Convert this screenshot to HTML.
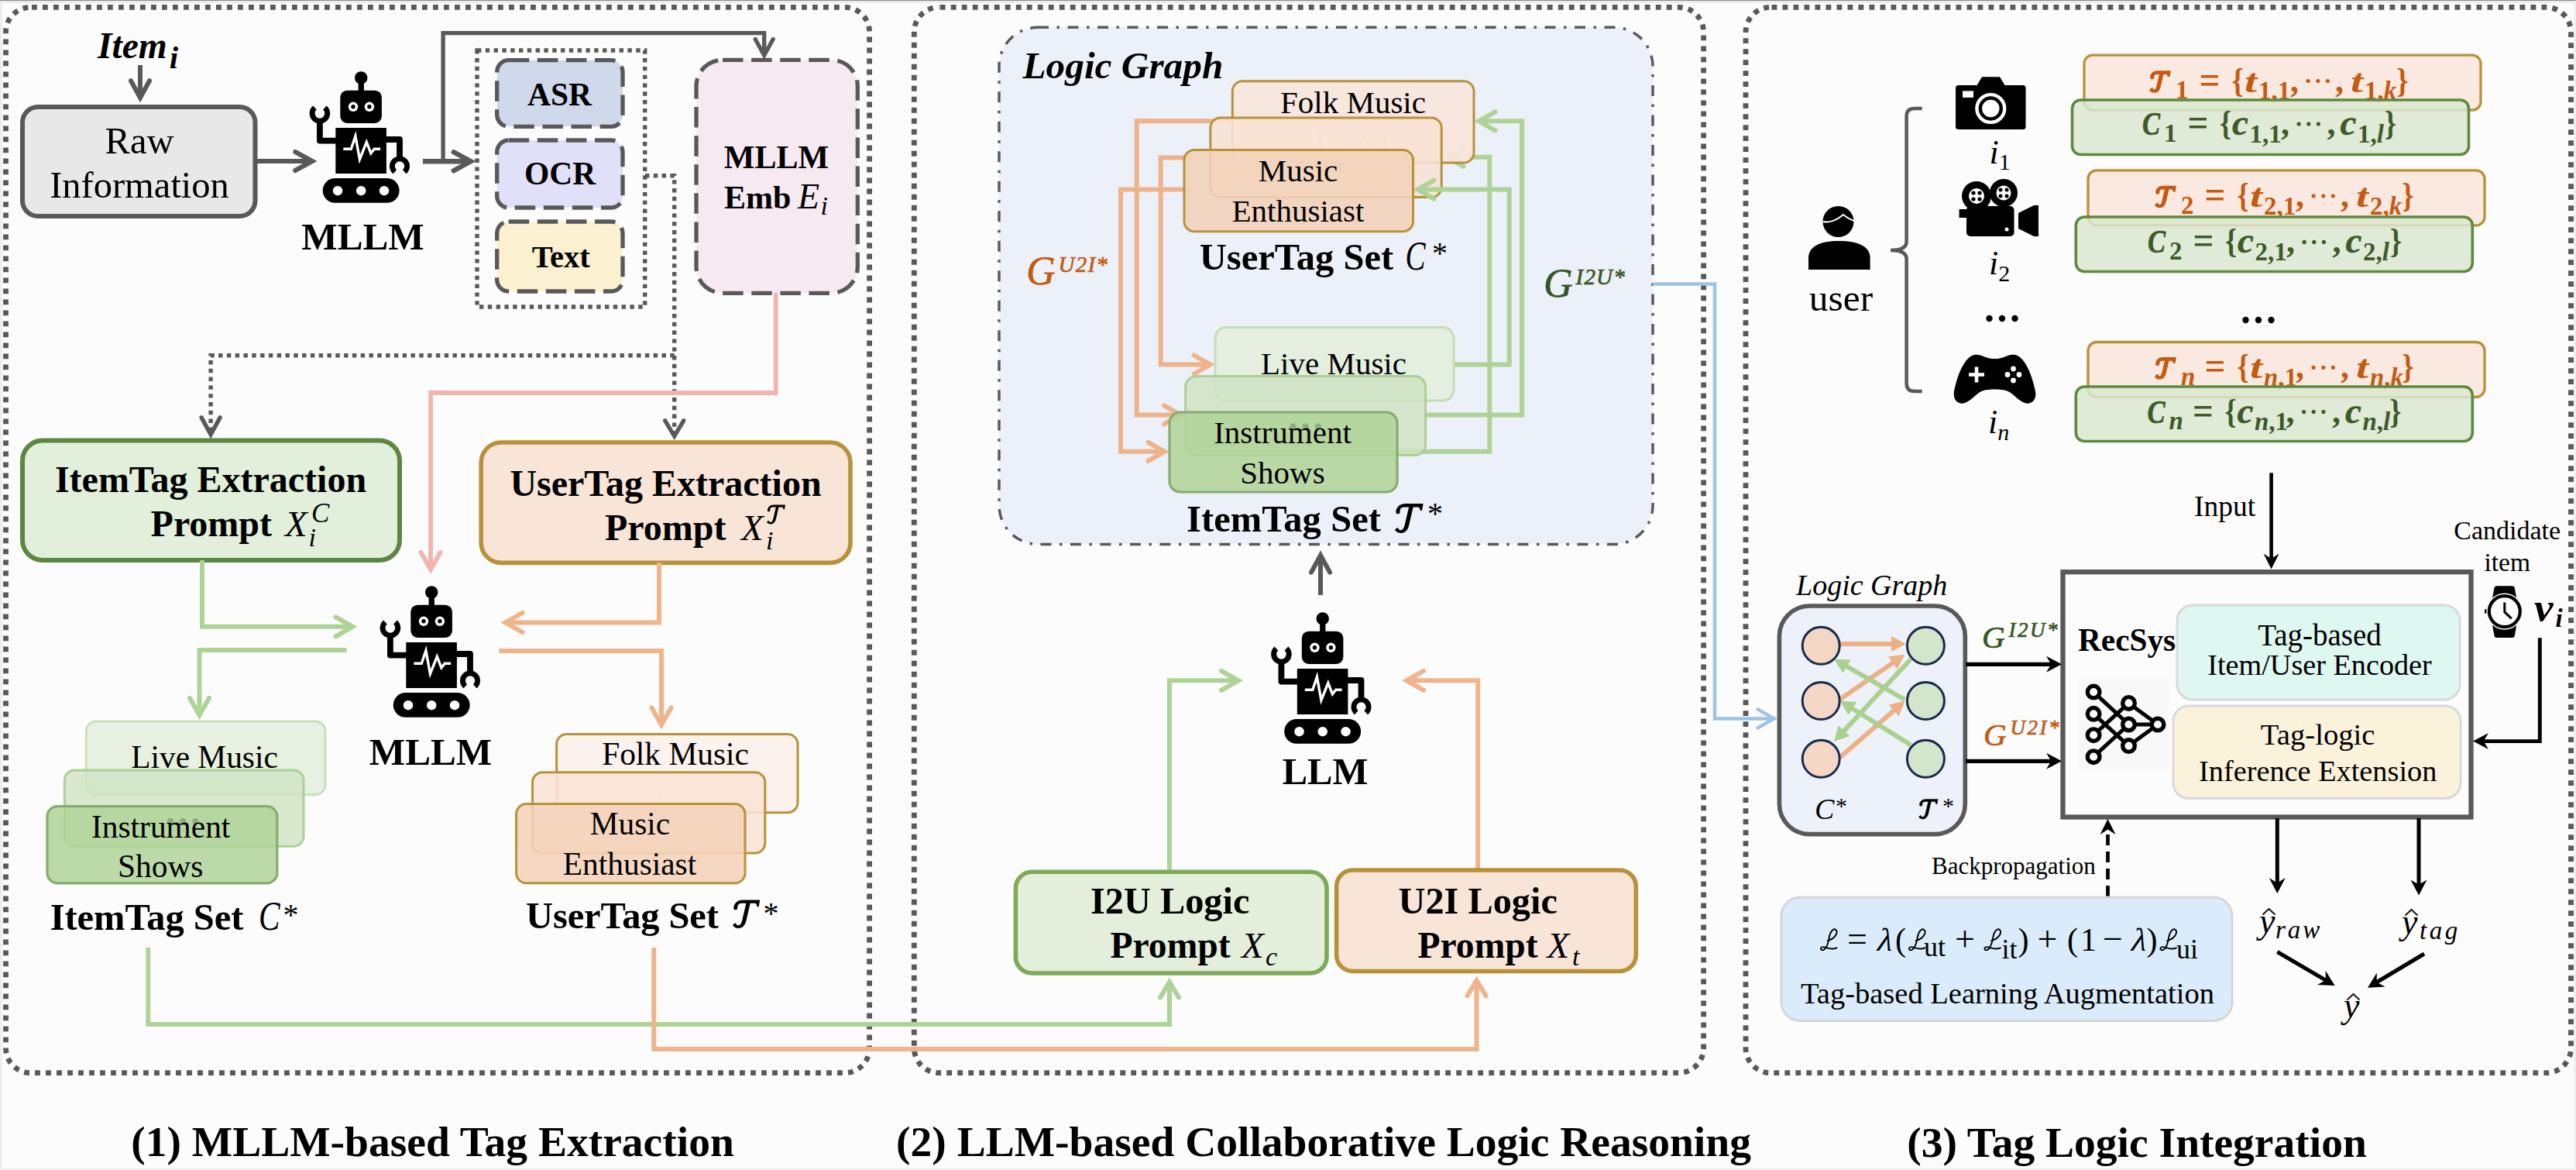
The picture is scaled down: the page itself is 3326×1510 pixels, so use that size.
<!DOCTYPE html>
<html><head><meta charset="utf-8"><title>figure</title>
<style>
html,body{margin:0;padding:0;background:#fcfcfc;}
svg{display:block}
text{font-family:"Liberation Serif",serif;white-space:pre}
.b{font-weight:bold}
.i{font-style:italic}
.bi{font-weight:bold;font-style:italic}
.sans{font-family:"Liberation Sans",sans-serif}
</style></head>
<body>
<svg width="3326" height="1510" viewBox="0 0 3326 1510">
<defs>
<g id="robot">
 <circle cx="86.2" cy="20.4" r="8.2"/>
 <rect x="82.6" y="20" width="7.3" height="20"/>
 <rect x="59.3" y="36.7" width="53.6" height="42.2" rx="9"/>
 <circle cx="76" cy="57.8" r="6.2" fill="#fff"/><circle cx="76" cy="57.8" r="2.7"/>
 <circle cx="96.9" cy="57.8" r="6.2" fill="#fff"/><circle cx="96.9" cy="57.8" r="2.7"/>
 <rect x="53.3" y="85" width="65.6" height="59"/>
 <polyline points="63.3,112.2 73.3,112.2 78.9,95.6 84.4,125.6 93.3,103.3 98.9,117.8 103.3,112.2 111.1,112.2" stroke="#fff" stroke-width="3.4" fill="none"/>
 <path d="M54,101.6 H32.9 V74" fill="none" stroke="#000" stroke-width="7.8" stroke-linejoin="round"/>
 <path d="M39.4,59.0 A9.8,9.8 0 1 1 26.4,59.0" fill="none" stroke="#000" stroke-width="7"/>
 <path d="M118,100 H136 V123" fill="none" stroke="#000" stroke-width="7.8" stroke-linejoin="round"/>
 <path d="M129.83,141.75 A9.6,9.6 0 1 1 142.17,141.75" fill="none" stroke="#000" stroke-width="6.8"/>
 <rect x="36.7" y="150" width="98.9" height="31.8" rx="15.9"/>
 <circle cx="56" cy="166.2" r="6.2" fill="#fff"/><circle cx="86.2" cy="166.2" r="6.2" fill="#fff"/><circle cx="116" cy="166.2" r="6.2" fill="#fff"/>
</g>
</defs>
<rect x="0" y="0" width="3326" height="1510" fill="#fcfcfc"/>
<rect x="0" y="0" width="3" height="1510" fill="#eeeeee"/>
<rect x="0" y="1508" width="3326" height="2" fill="#eeeeee"/>
<rect x="0" y="0" width="3326" height="4" fill="#ececec"/>
<rect x="0" y="0" width="3326" height="1" fill="#8c8c8c"/>
<rect x="7.5" y="9.4" width="1115.1" height="1375.3" rx="32" ry="32" fill="none" stroke="#595959" stroke-width="6.8" stroke-dasharray="6.8 7.2" stroke-dashoffset="-1.5"/>
<rect x="1180.3" y="9.4" width="1019.3" height="1375.3" rx="32" ry="32" fill="none" stroke="#595959" stroke-width="6.8" stroke-dasharray="6.8 7.2" stroke-dashoffset="-1.5"/>
<rect x="2254.0" y="9.4" width="1065.5" height="1375.3" rx="32" ry="32" fill="none" stroke="#595959" stroke-width="6.8" stroke-dasharray="6.8 7.2" stroke-dashoffset="-1.5"/>
<text x="126.0" y="74.5" font-size="47.5" class="bi" text-anchor="start" fill="#000" >Item<tspan dy="13" dx="3" font-size="41">i</tspan></text>
<polyline points="181.0,84.0 181.0,126.2" fill="none" stroke="#595959" stroke-width="6" stroke-linejoin="miter" />
<polyline points="169.0,104.2 181.0,126.2 193.0,104.2" fill="none" stroke="#595959" stroke-width="6" stroke-linecap="round" stroke-linejoin="miter" />
<rect x="29.0" y="138.0" width="300.5" height="141.0" rx="20" ry="20" fill="#e8e8e8" stroke="#595959" stroke-width="6" />
<text x="180.0" y="197.7" font-size="48.5" class="" text-anchor="middle" fill="#000" >Raw</text>
<text x="180.0" y="255.0" font-size="48.5" class="" text-anchor="middle" fill="#000" >Information</text>
<polyline points="331.0,208.0 403.2,208.0" fill="none" stroke="#595959" stroke-width="6" stroke-linejoin="miter" />
<polyline points="381.2,220.0 403.2,208.0 381.2,196.0" fill="none" stroke="#595959" stroke-width="6" stroke-linecap="round" stroke-linejoin="miter" />
<use href="#robot" x="380" y="80"/>
<text x="468.5" y="322.0" font-size="49.2" class="b" text-anchor="middle" fill="#000" >MLLM</text>
<polyline points="546.0,208.3 607.8,208.3" fill="none" stroke="#595959" stroke-width="6.4" stroke-linejoin="miter" />
<polyline points="585.8,220.3 607.8,208.3 585.8,196.3" fill="none" stroke="#595959" stroke-width="6.4" stroke-linecap="round" stroke-linejoin="miter" />
<polyline points="572.1,208.0 572.1,42.7 986.7,42.7 986.7,71.5" fill="none" stroke="#595959" stroke-width="5.3" stroke-linejoin="miter" />
<polyline points="975.2,50.5 986.7,71.5 998.2,50.5" fill="none" stroke="#595959" stroke-width="5.3" stroke-linecap="round" stroke-linejoin="miter" />
<rect x="616.0" y="65.0" width="216.7" height="331.0" rx="0" ry="0" fill="none" stroke="#595959" stroke-width="5.4" stroke-dasharray="5.4 5.4" />
<rect x="641.7" y="77.7" width="162.3" height="85.6" rx="15" ry="15" fill="#cfd9eb" stroke="#595959" stroke-width="5.3" stroke-dasharray="26.5 10.6" />
<rect x="641.7" y="181.0" width="162.3" height="87.0" rx="15" ry="15" fill="#e0e0f8" stroke="#595959" stroke-width="5.3" stroke-dasharray="26.5 10.6" />
<rect x="641.7" y="286.0" width="162.3" height="90.0" rx="15" ry="15" fill="#fbf0d0" stroke="#595959" stroke-width="5.3" stroke-dasharray="26.5 10.6" />
<text x="722.5" y="136.0" font-size="41.5" class="b" text-anchor="middle" fill="#000" >ASR</text>
<text x="723.0" y="238.3" font-size="41.5" class="b" text-anchor="middle" fill="#000" >OCR</text>
<text x="724.3" y="345.0" font-size="40.5" class="b" text-anchor="middle" fill="#000" >Text</text>
<rect x="899.0" y="77.3" width="208.3" height="301.0" rx="34" ry="34" fill="#f7e9f2" stroke="#595959" stroke-width="5.3" stroke-dasharray="26.5 10.6" />
<text x="1002.5" y="217.3" font-size="42" class="b" text-anchor="middle" fill="#000" >MLLM</text>
<text x="935.0" y="269.3" font-size="42" class="b" text-anchor="start" fill="#000" >Emb</text>
<text x="1030.0" y="269.3" font-size="46" class="i" text-anchor="start" fill="#000" >E</text>
<text x="1059.5" y="276.7" font-size="34" class="i" text-anchor="start" fill="#000" >i</text>
<polyline points="833.0,226.7 870.7,226.7 870.7,562.8" fill="none" stroke="#595959" stroke-width="5.4" stroke-linejoin="miter" stroke-dasharray="5.4 5.4" />
<polyline points="858.7,542.8 870.7,562.8 882.7,542.8" fill="none" stroke="#595959" stroke-width="5.4" stroke-linecap="round" stroke-linejoin="miter" />
<polyline points="870.7,458.8 272.1,458.8 272.1,560.9" fill="none" stroke="#595959" stroke-width="5.4" stroke-linejoin="miter" stroke-dasharray="5.4 5.4" />
<polyline points="260.1,538.9 272.1,560.9 284.1,538.9" fill="none" stroke="#595959" stroke-width="5.4" stroke-linecap="round" stroke-linejoin="miter" />
<polyline points="1001.7,378.0 1001.7,507.0 556.0,507.0 556.0,735.1" fill="none" stroke="#f4b4ae" stroke-width="5.8" stroke-linejoin="miter" />
<polyline points="543.5,713.1 556.0,735.1 568.5,713.1" fill="none" stroke="#f4b4ae" stroke-width="5.8" stroke-linecap="round" stroke-linejoin="miter" />
<rect x="29.0" y="568.6" width="487.0" height="154.4" rx="26" ry="26" fill="#e2efda" stroke="#5d8740" stroke-width="6" />
<text x="272.0" y="635.3" font-size="48" class="b" text-anchor="middle" fill="#000" >ItemTag Extraction</text>
<text x="194.6" y="692.2" font-size="48" class="b" text-anchor="start" fill="#000" >Prompt</text>
<text x="368.0" y="692.2" font-size="47" class="i" text-anchor="start" fill="#000" >X</text>
<text x="398.5" y="704.5" font-size="34" class="i" text-anchor="start" fill="#000" >i</text>
<text x="402.0" y="673.8" font-size="35" class="i" text-anchor="start" fill="#000" >C</text>
<rect x="621.2" y="571.0" width="476.8" height="155.4" rx="26" ry="26" fill="#f8e5d8" stroke="#b8923a" stroke-width="5.6" />
<text x="859.5" y="639.8" font-size="48" class="b" text-anchor="middle" fill="#000" >UserTag Extraction</text>
<text x="781.0" y="697.0" font-size="48" class="b" text-anchor="start" fill="#000" >Prompt</text>
<text x="957.0" y="697.0" font-size="47" class="i" text-anchor="start" fill="#000" >X</text>
<text x="989.0" y="708.6" font-size="34" class="i" text-anchor="start" fill="#000" >i</text>
<path transform="translate(990.0,676.4) scale(0.6538)" fill="#000" d="M6.2,-25.6 C4.5,-24.5 2.5,-24.5 1.7,-25.5 C0.8,-28 1.5,-31 4,-34 C6.5,-37 10,-38 14,-38 L36.6,-38 L34.9,-28.7 L32.5,-29.5 C32.5,-31.5 32,-33 30,-33.5 L23.6,-33.5 L18.3,-10.6 C17,-5 14,-0.5 8.5,0 C4.5,0.3 1,-1.5 0,-4.4 L3.8,-7.2 C4.5,-5 6,-3.6 8,-3.8 C10.5,-4.2 12,-7.5 12.8,-11 L18.1,-33.5 L12,-33.5 C9,-33.5 7,-32 6.6,-29.5 Z"/>
<polyline points="261.0,723.0 261.0,808.8 455.4,808.8" fill="none" stroke="#aed396" stroke-width="6" stroke-linejoin="miter" />
<polyline points="433.4,821.3 455.4,808.8 433.4,796.3" fill="none" stroke="#aed396" stroke-width="6" stroke-linecap="round" stroke-linejoin="miter" />
<polyline points="851.0,726.0 851.0,803.5 652.6,803.5" fill="none" stroke="#f0b48a" stroke-width="6" stroke-linejoin="miter" />
<polyline points="674.6,791.0 652.6,803.5 674.6,816.0" fill="none" stroke="#f0b48a" stroke-width="6" stroke-linecap="round" stroke-linejoin="miter" />
<polyline points="447.6,839.0 257.5,839.0 257.5,922.9" fill="none" stroke="#aed396" stroke-width="6" stroke-linejoin="miter" />
<polyline points="245.0,900.9 257.5,922.9 270.0,900.9" fill="none" stroke="#aed396" stroke-width="6" stroke-linecap="round" stroke-linejoin="miter" />
<polyline points="644.4,840.0 854.0,840.0 854.0,935.4" fill="none" stroke="#f0b48a" stroke-width="6" stroke-linejoin="miter" />
<polyline points="841.5,913.4 854.0,935.4 866.5,913.4" fill="none" stroke="#f0b48a" stroke-width="6" stroke-linecap="round" stroke-linejoin="miter" />
<use href="#robot" x="471" y="744"/>
<text x="556.0" y="986.8" font-size="49.2" class="b" text-anchor="middle" fill="#000" >MLLM</text>
<polyline points="191.3,1223.0 191.3,1322.0 1510.0,1322.0 1510.0,1267.4" fill="none" stroke="#aed396" stroke-width="6" stroke-linejoin="miter" />
<polyline points="1522.0,1287.4 1510.0,1267.4 1498.0,1287.4" fill="none" stroke="#aed396" stroke-width="6" stroke-linecap="round" stroke-linejoin="miter" />
<polyline points="844.3,1223.0 844.3,1354.0 1906.5,1354.0 1906.5,1265.3" fill="none" stroke="#f0b48a" stroke-width="6" stroke-linejoin="miter" />
<polyline points="1918.5,1285.3 1906.5,1265.3 1894.5,1285.3" fill="none" stroke="#f0b48a" stroke-width="6" stroke-linecap="round" stroke-linejoin="miter" />
<rect x="111.3" y="931.0" width="308.7" height="94.6" rx="13" ry="13" fill="#e6f0de" stroke="#c8e0b9" stroke-width="3" fill-opacity="0.9"/>
<text x="264.0" y="991.0" font-size="41.4" class="" text-anchor="middle" fill="#000" >Live Music</text>
<rect x="83.3" y="994.0" width="308.7" height="98.3" rx="13" ry="13" fill="#d0e4c3" stroke="#abd094" stroke-width="3" fill-opacity="0.85"/>
<rect x="61.0" y="1040.7" width="296.8" height="99.1" rx="13" ry="13" fill="#b0d398" stroke="#86ac70" stroke-width="3.2" fill-opacity="0.85"/>
<g fill="#8fae7c"><circle cx="220" cy="1060" r="4.2"/><circle cx="236.2" cy="1060" r="4.2"/><circle cx="252.4" cy="1060" r="4.2"/></g>
<text x="207.7" y="1080.7" font-size="41.4" class="" text-anchor="middle" fill="#000" >Instrument</text>
<text x="207.2" y="1132.3" font-size="41.4" class="" text-anchor="middle" fill="#000" >Shows</text>
<text x="64.7" y="1199.8" font-size="48.5" class="b" text-anchor="start" fill="#000" textLength="249.6">ItemTag Set</text>
<text x="334.0" y="1199.8" font-size="52" class="i" text-anchor="start" fill="#000" textLength="27.5" lengthAdjust="spacingAndGlyphs">C</text>
<text x="365.5" y="1194.0" font-size="40" class="" text-anchor="start" fill="#000" >*</text>
<rect x="718.6" y="947.5" width="311.4" height="101.2" rx="13" ry="13" fill="#fcf1eb" stroke="#b8923a" stroke-width="3" fill-opacity="0.9"/>
<text x="872.0" y="986.5" font-size="41.4" class="" text-anchor="middle" fill="#000" >Folk Music</text>
<text x="872.0" y="1040.0" font-size="41.4" class="" text-anchor="middle" fill="#f5e6dd" >Lover</text>
<rect x="687.5" y="996.8" width="300.3" height="104.2" rx="13" ry="13" fill="#f9e4d6" stroke="#b8923a" stroke-width="3" fill-opacity="0.88"/>
<g fill="#eebb9a"><circle cx="822" cy="1065.5" r="4"/><circle cx="838" cy="1065.5" r="4"/><circle cx="854" cy="1065.5" r="4"/></g>
<rect x="666.6" y="1037.6" width="295.4" height="102.2" rx="13" ry="13" fill="#f5d3ba" stroke="#b8923a" stroke-width="3" fill-opacity="0.88"/>
<text x="813.5" y="1076.7" font-size="41.4" class="" text-anchor="middle" fill="#000" >Music</text>
<text x="813.0" y="1128.7" font-size="41.4" class="" text-anchor="middle" fill="#000" >Enthusiast</text>
<text x="679.0" y="1198.0" font-size="48.5" class="b" text-anchor="start" fill="#000" textLength="248.8">UserTag Set</text>
<path transform="translate(946.0,1198.0) scale(0.9615)" fill="#000" d="M6.2,-25.6 C4.5,-24.5 2.5,-24.5 1.7,-25.5 C0.8,-28 1.5,-31 4,-34 C6.5,-37 10,-38 14,-38 L36.6,-38 L34.9,-28.7 L32.5,-29.5 C32.5,-31.5 32,-33 30,-33.5 L23.6,-33.5 L18.3,-10.6 C17,-5 14,-0.5 8.5,0 C4.5,0.3 1,-1.5 0,-4.4 L3.8,-7.2 C4.5,-5 6,-3.6 8,-3.8 C10.5,-4.2 12,-7.5 12.8,-11 L18.1,-33.5 L12,-33.5 C9,-33.5 7,-32 6.6,-29.5 Z"/>
<text x="985.5" y="1192.0" font-size="40" class="" text-anchor="start" fill="#000" >*</text>
<text x="558.5" y="1491.6" font-size="55.5" class="b" text-anchor="middle" fill="#000" >(1) MLLM-based Tag Extraction</text>
<rect x="1290.0" y="35.3" width="844.0" height="667.1" rx="50" ry="50" fill="#ecf0f9" stroke="#595959" stroke-width="3.5" stroke-dasharray="14 10.5 3.5 10.5" />
<text x="1320.5" y="100.6" font-size="49.3" class="bi" text-anchor="start" fill="#000" >Logic Graph</text>
<polyline points="1600.0,156.3 1467.7,156.3 1467.7,535.4 1524.0,535.4" fill="none" stroke="#efb38b" stroke-width="6" stroke-linejoin="miter" />
<polyline points="1503.0,547.4 1524.0,535.4 1503.0,523.4" fill="none" stroke="#efb38b" stroke-width="6" stroke-linecap="round" stroke-linejoin="miter" />
<polyline points="1540.0,203.4 1498.7,203.4 1498.7,470.5 1562.7,470.5" fill="none" stroke="#efb38b" stroke-width="6" stroke-linejoin="miter" />
<polyline points="1541.7,482.5 1562.7,470.5 1541.7,458.5" fill="none" stroke="#efb38b" stroke-width="6" stroke-linecap="round" stroke-linejoin="miter" />
<polyline points="1540.0,244.6 1447.0,244.6 1447.0,582.8 1503.5,582.8" fill="none" stroke="#efb38b" stroke-width="6" stroke-linejoin="miter" />
<polyline points="1482.5,594.8 1503.5,582.8 1482.5,570.8" fill="none" stroke="#efb38b" stroke-width="6" stroke-linecap="round" stroke-linejoin="miter" />
<polyline points="1804.0,582.8 1923.3,582.8 1923.3,202.8 1868.6,202.8" fill="none" stroke="#aed396" stroke-width="6" stroke-linejoin="miter" />
<polyline points="1889.6,190.8 1868.6,202.8 1889.6,214.8" fill="none" stroke="#aed396" stroke-width="6" stroke-linecap="round" stroke-linejoin="miter" />
<rect x="1591.3" y="104.7" width="311.7" height="105.3" rx="13" ry="13" fill="#f8e6dc" stroke="#b8923a" stroke-width="3" fill-opacity="0.92"/>
<text x="1747.0" y="146.4" font-size="41" class="" text-anchor="middle" fill="#000" >Folk Music</text>
<text x="1747.0" y="193.0" font-size="41" class="" text-anchor="middle" fill="#ead6ca" >Lover</text>
<rect x="1562.8" y="152.0" width="298.4" height="102.5" rx="13" ry="13" fill="#f7e2d4" stroke="#b8923a" stroke-width="3" fill-opacity="0.9"/>
<polyline points="1877.0,470.5 1948.7,470.5 1948.7,244.6 1830.5,244.6" fill="none" stroke="#aed396" stroke-width="6" stroke-linejoin="miter" />
<polyline points="1851.5,232.6 1830.5,244.6 1851.5,256.6" fill="none" stroke="#aed396" stroke-width="6" stroke-linecap="round" stroke-linejoin="miter" />
<polyline points="1840.6,535.4 1965.0,535.4 1965.0,156.3 1909.5,156.3" fill="none" stroke="#aed396" stroke-width="6" stroke-linejoin="miter" />
<polyline points="1930.5,144.3 1909.5,156.3 1930.5,168.3" fill="none" stroke="#aed396" stroke-width="6" stroke-linecap="round" stroke-linejoin="miter" />
<g fill="#eebb9a"><circle cx="1699" cy="217" r="4"/><circle cx="1714" cy="217" r="4"/><circle cx="1729" cy="217" r="4"/></g>
<rect x="1529.0" y="193.5" width="295.5" height="105.2" rx="13" ry="13" fill="#f3d2ba" stroke="#b8923a" stroke-width="3" fill-opacity="0.9"/>
<text x="1676.0" y="234.4" font-size="41" class="" text-anchor="middle" fill="#000" >Music</text>
<text x="1676.0" y="286.0" font-size="41" class="" text-anchor="middle" fill="#000" >Enthusiast</text>
<text x="1548.7" y="348.0" font-size="48.5" class="b" text-anchor="start" fill="#000" textLength="250.5">UserTag Set</text>
<text x="1814.5" y="348.0" font-size="52" class="i" text-anchor="start" fill="#000" textLength="26" lengthAdjust="spacingAndGlyphs">C</text>
<text x="1849.0" y="339.5" font-size="40" class="" text-anchor="start" fill="#000" >*</text>
<text x="1325.0" y="367.0" font-size="52" class="i" text-anchor="start" fill="#c55a11" stroke="#c55a11" stroke-width="0.7">G<tspan dy="-16" font-size="29" dx="4" letter-spacing="1.2">U2I*</tspan></text>
<text x="1993.0" y="383.0" font-size="52" class="i" text-anchor="start" fill="#375623" stroke="#375623" stroke-width="0.7">G<tspan dy="-16" font-size="29" dx="4" letter-spacing="1.2">I2U*</tspan></text>
<rect x="1569.0" y="422.6" width="308.0" height="94.4" rx="14" ry="14" fill="#e3eedd" stroke="#c5deb5" stroke-width="3" fill-opacity="0.9"/>
<text x="1722.0" y="483.2" font-size="41" class="" text-anchor="middle" fill="#000" >Live Music</text>
<rect x="1530.6" y="485.5" width="310.0" height="102.1" rx="14" ry="14" fill="#d0e3c3" stroke="#abd094" stroke-width="3" fill-opacity="0.85"/>
<rect x="1510.0" y="532.0" width="294.0" height="103.0" rx="14" ry="14" fill="#b0d398" stroke="#86ac70" stroke-width="3.2" fill-opacity="0.85"/>
<g fill="#8fae7c"><circle cx="1669.4" cy="550.4" r="4.2"/><circle cx="1685.5" cy="550.4" r="4.2"/><circle cx="1701.8" cy="550.4" r="4.2"/></g>
<text x="1656.0" y="572.0" font-size="41" class="" text-anchor="middle" fill="#000" >Instrument</text>
<text x="1656.0" y="624.3" font-size="41" class="" text-anchor="middle" fill="#000" >Shows</text>
<text x="1532.0" y="685.5" font-size="48.5" class="b" text-anchor="start" fill="#000" textLength="251">ItemTag Set</text>
<path transform="translate(1801.0,688.0) scale(1.0000)" fill="#000" d="M6.2,-25.6 C4.5,-24.5 2.5,-24.5 1.7,-25.5 C0.8,-28 1.5,-31 4,-34 C6.5,-37 10,-38 14,-38 L36.6,-38 L34.9,-28.7 L32.5,-29.5 C32.5,-31.5 32,-33 30,-33.5 L23.6,-33.5 L18.3,-10.6 C17,-5 14,-0.5 8.5,0 C4.5,0.3 1,-1.5 0,-4.4 L3.8,-7.2 C4.5,-5 6,-3.6 8,-3.8 C10.5,-4.2 12,-7.5 12.8,-11 L18.1,-33.5 L12,-33.5 C9,-33.5 7,-32 6.6,-29.5 Z"/>
<text x="1843.0" y="676.0" font-size="40" class="" text-anchor="start" fill="#000" >*</text>
<polyline points="2134.0,366.6 2214.0,366.6 2214.0,927.4 2290.5,927.4" fill="none" stroke="#9dc3e6" stroke-width="4.5" stroke-linejoin="miter" />
<polyline points="2269.5,939.4 2290.5,927.4 2269.5,915.4" fill="none" stroke="#9dc3e6" stroke-width="4.5" stroke-linecap="round" stroke-linejoin="miter" />
<polyline points="1705.0,768.0 1705.0,716.6" fill="none" stroke="#595959" stroke-width="6" stroke-linejoin="miter" />
<polyline points="1717.0,738.6 1705.0,716.6 1693.0,738.6" fill="none" stroke="#595959" stroke-width="6" stroke-linecap="round" stroke-linejoin="miter" />
<use href="#robot" x="1621.5" y="778"/>
<text x="1711.0" y="1011.7" font-size="48.6" class="b" text-anchor="middle" fill="#000" >LLM</text>
<polyline points="1510.0,1123.0 1510.0,878.3 1598.9,878.3" fill="none" stroke="#aed396" stroke-width="6" stroke-linejoin="miter" />
<polyline points="1576.9,890.8 1598.9,878.3 1576.9,865.8" fill="none" stroke="#aed396" stroke-width="6" stroke-linecap="round" stroke-linejoin="miter" />
<polyline points="1908.2,1121.0 1908.2,878.3 1816.1,878.3" fill="none" stroke="#f0b48a" stroke-width="6" stroke-linejoin="miter" />
<polyline points="1838.1,865.8 1816.1,878.3 1838.1,890.8" fill="none" stroke="#f0b48a" stroke-width="6" stroke-linecap="round" stroke-linejoin="miter" />
<rect x="1311.4" y="1125.3" width="401.6" height="130.7" rx="21" ry="21" fill="#e3eedb" stroke="#7dab57" stroke-width="5.6" />
<text x="1510.7" y="1179.3" font-size="48.3" class="b" text-anchor="middle" fill="#000" >I2U Logic</text>
<text x="1433.5" y="1235.5" font-size="47.6" class="b" text-anchor="start" fill="#000" >Prompt</text>
<text x="1603.0" y="1235.5" font-size="47" class="i" text-anchor="start" fill="#000" >X</text>
<text x="1634.0" y="1245.7" font-size="34" class="i" text-anchor="start" fill="#000" >c</text>
<rect x="1725.6" y="1123.0" width="386.7" height="130.5" rx="21" ry="21" fill="#f8e5d8" stroke="#b8923a" stroke-width="5.6" />
<text x="1908.2" y="1179.3" font-size="48.3" class="b" text-anchor="middle" fill="#000" >U2I Logic</text>
<text x="1830.5" y="1235.5" font-size="47.6" class="b" text-anchor="start" fill="#000" >Prompt</text>
<text x="1997.5" y="1235.5" font-size="47" class="i" text-anchor="start" fill="#000" >X</text>
<text x="2030.0" y="1245.7" font-size="34" class="i" text-anchor="start" fill="#000" >t</text>
<text x="1709.0" y="1491.6" font-size="55.5" class="b" text-anchor="middle" fill="#000" >(2) LLM-based Collaborative Logic Reasoning</text>
<g fill="#000"><circle cx="2373.5" cy="286" r="20"/><path d="M2335,348 V333 C2335,318 2350,311 2374.5,311 C2399,311 2414.6,318 2414.6,333 V348 Z"/></g>
<path d="M2354,286 C2362,288 2372,284 2380,277 C2385,281 2390,284 2394,285" fill="none" stroke="#fff" stroke-width="2"/>
<text x="2377.0" y="400.5" font-size="49.5" class="" text-anchor="middle" fill="#000" >user</text>
<path d="M2481.7,140 H2472 Q2461.6,140 2461.6,150 V312 Q2461.6,323 2441,323 Q2461.6,323 2461.6,334 V495 Q2461.6,505 2472,505 H2481.7" fill="none" stroke="#595959" stroke-width="4.5"/>
<g><path d="M2529,110 H2552.6 L2559,99.2 H2582 L2588.5,110 H2612 Q2615.5,110 2615.5,113.5 V163.5 Q2615.5,167 2612,167 H2529 Q2525,167 2525,163.5 V113.5 Q2525,110 2529,110 Z" fill="#000"/><circle cx="2570.3" cy="140" r="17.9" fill="none" stroke="#fff" stroke-width="4.4"/><circle cx="2570.3" cy="140" r="11.2" fill="#fff"/><rect x="2534" y="117.4" width="14" height="8.5" fill="#fff"/></g>
<text x="2568.5" y="210.8" font-size="44" class="i" text-anchor="start" fill="#000" >i<tspan dy="8.5" font-size="30" style="font-style:normal">1</tspan></text>
<g fill="#000"><circle cx="2552" cy="253" r="19"/><circle cx="2587" cy="249" r="18"/><rect x="2539" y="266" width="61.5" height="39" rx="5"/><path d="M2606,275 L2626,265 H2632 V305 H2626 L2606,295 Z"/><rect x="2529.6" y="270" width="11" height="11"/></g>
<g fill="#fff"><circle cx="2552" cy="253" r="10"/><circle cx="2587" cy="249" r="9.5"/><circle cx="2591" cy="296" r="2.5"/></g>
<g fill="#000"><circle cx="2548" cy="249" r="2.6"/><circle cx="2556" cy="249" r="2.6"/><circle cx="2548" cy="257" r="2.6"/><circle cx="2556" cy="257" r="2.6"/><circle cx="2583" cy="245" r="2.5"/><circle cx="2591" cy="245" r="2.5"/><circle cx="2583" cy="253" r="2.5"/><circle cx="2591" cy="253" r="2.5"/></g>
<text x="2568.0" y="354.0" font-size="44" class="i" text-anchor="start" fill="#000" >i<tspan dy="9" font-size="30" style="font-style:normal">2</tspan></text>
<g fill="#000"><circle cx="2568.5" cy="411" r="4.2"/><circle cx="2585" cy="411" r="4.2"/><circle cx="2601.5" cy="411" r="4.2"/></g>
<path d="M2549,458 C2558,456 2563,463 2575.5,463 C2588,463 2593,456 2602,458 C2615,461 2624,485 2628,505 C2630,517 2622,523 2614,520 C2604,516 2598,506 2590,504 C2582,502 2569,502 2561,504 C2553,506 2547,516 2537,520 C2529,523 2521,517 2523,505 C2527,485 2536,461 2549,458 Z" fill="#000"/>
<g stroke="#fff" stroke-width="4.6"><line x1="2542" y1="483.5" x2="2562" y2="483.5"/><line x1="2552" y1="473.5" x2="2552" y2="493.5"/></g>
<g fill="#fff"><circle cx="2599.5" cy="476" r="3.4"/><circle cx="2599.5" cy="491" r="3.4"/><circle cx="2592" cy="483.5" r="3.4"/><circle cx="2607" cy="483.5" r="3.4"/></g>
<text x="2567.0" y="559.0" font-size="44" class="i" text-anchor="start" fill="#000" >i<tspan dy="9" font-size="30">n</tspan></text>
<rect x="2691.0" y="71.2" width="512.0" height="71.0" rx="11" ry="11" fill="#fae9e0" stroke="#b8923a" stroke-width="3.3" />
<path transform="translate(2776.0,119.0) scale(0.7115)" fill="#c55a11" stroke="#c55a11" stroke-width="2.2" stroke-linejoin="round" d="M6.2,-25.6 C4.5,-24.5 2.5,-24.5 1.7,-25.5 C0.8,-28 1.5,-31 4,-34 C6.5,-37 10,-38 14,-38 L36.6,-38 L34.9,-28.7 L32.5,-29.5 C32.5,-31.5 32,-33 30,-33.5 L23.6,-33.5 L18.3,-10.6 C17,-5 14,-0.5 8.5,0 C4.5,0.3 1,-1.5 0,-4.4 L3.8,-7.2 C4.5,-5 6,-3.6 8,-3.8 C10.5,-4.2 12,-7.5 12.8,-11 L18.1,-33.5 L12,-33.5 C9,-33.5 7,-32 6.6,-29.5 Z"/>
<text x="2809.0" y="127.0" font-size="33" class="b" text-anchor="start" fill="#c55a11" >1</text>
<text x="2839.5" y="119.5" font-size="50" class="b" text-anchor="start" fill="#c55a11" textLength="27" lengthAdjust="spacingAndGlyphs">=</text>
<text x="2881.5" y="118.5" font-size="45" class="b" text-anchor="start" fill="#c55a11" textLength="15" lengthAdjust="spacingAndGlyphs">{</text>
<text x="2898.0" y="118.5" font-size="43" class="bi" text-anchor="start" fill="#c55a11" textLength="16" lengthAdjust="spacingAndGlyphs">t</text>
<text x="2916.0" y="128.0" font-size="33" class="b" text-anchor="start" fill="#c55a11" >1<tspan class="b" style="font-style:normal">,1</tspan></text>
<text x="2957.0" y="118.5" font-size="44" class="b" text-anchor="start" fill="#c55a11" >,</text>
<g fill="#c55a11"><circle cx="2980.1" cy="104.5" r="2.6"/><circle cx="2992.8" cy="104.5" r="2.6"/><circle cx="3005.4" cy="104.5" r="2.6"/></g>
<text x="3015.0" y="118.5" font-size="44" class="b" text-anchor="start" fill="#c55a11" >,</text>
<text x="3035.0" y="118.5" font-size="43" class="bi" text-anchor="start" fill="#c55a11" textLength="16" lengthAdjust="spacingAndGlyphs">t</text>
<text x="3053.0" y="128.0" font-size="33" class="b" text-anchor="start" fill="#c55a11" >1<tspan class="b" style="font-style:normal">,</tspan><tspan class="bi">k</tspan></text>
<text x="3094.5" y="118.5" font-size="45" class="b" text-anchor="start" fill="#c55a11" textLength="15" lengthAdjust="spacingAndGlyphs">}</text>
<rect x="2675.5" y="129.0" width="512.0" height="70.5" rx="11" ry="11" fill="#d9e8d0" stroke="#5e8a3f" stroke-width="3.6" fill-opacity="0.85"/>
<text x="2766.0" y="174.0" font-size="42" class="bi" text-anchor="start" fill="#3f5a28" textLength="23" stroke="#3f5a28" stroke-width="0.7" lengthAdjust="spacingAndGlyphs">C</text>
<text x="2794.0" y="182.5" font-size="33" class="b" text-anchor="start" fill="#3f5a28" >1</text>
<text x="2824.5" y="175.0" font-size="50" class="b" text-anchor="start" fill="#3f5a28" textLength="27" lengthAdjust="spacingAndGlyphs">=</text>
<text x="2866.0" y="174.0" font-size="45" class="b" text-anchor="start" fill="#3f5a28" textLength="15" lengthAdjust="spacingAndGlyphs">{</text>
<text x="2882.0" y="174.0" font-size="47" class="bi" text-anchor="start" fill="#3f5a28" stroke="#3f5a28" stroke-width="0.5">c</text>
<text x="2904.5" y="183.5" font-size="33" class="b" text-anchor="start" fill="#3f5a28" >1<tspan class="b" style="font-style:normal">,1</tspan></text>
<text x="2945.0" y="174.0" font-size="44" class="b" text-anchor="start" fill="#3f5a28" >,</text>
<g fill="#3f5a28"><circle cx="2968.1" cy="160.0" r="2.6"/><circle cx="2980.8" cy="160.0" r="2.6"/><circle cx="2993.4" cy="160.0" r="2.6"/></g>
<text x="3004.5" y="174.0" font-size="44" class="b" text-anchor="start" fill="#3f5a28" >,</text>
<text x="3021.5" y="174.0" font-size="47" class="bi" text-anchor="start" fill="#3f5a28" stroke="#3f5a28" stroke-width="0.5">c</text>
<text x="3044.0" y="183.5" font-size="33" class="b" text-anchor="start" fill="#3f5a28" >1<tspan class="b" style="font-style:normal">,</tspan><tspan class="bi">l</tspan></text>
<text x="3079.0" y="174.0" font-size="45" class="b" text-anchor="start" fill="#3f5a28" textLength="15" lengthAdjust="spacingAndGlyphs">}</text>
<rect x="2696.0" y="219.8" width="512.0" height="71.0" rx="11" ry="11" fill="#fae9e0" stroke="#b8923a" stroke-width="3.3" />
<path transform="translate(2783.0,267.5) scale(0.7115)" fill="#c55a11" stroke="#c55a11" stroke-width="2.2" stroke-linejoin="round" d="M6.2,-25.6 C4.5,-24.5 2.5,-24.5 1.7,-25.5 C0.8,-28 1.5,-31 4,-34 C6.5,-37 10,-38 14,-38 L36.6,-38 L34.9,-28.7 L32.5,-29.5 C32.5,-31.5 32,-33 30,-33.5 L23.6,-33.5 L18.3,-10.6 C17,-5 14,-0.5 8.5,0 C4.5,0.3 1,-1.5 0,-4.4 L3.8,-7.2 C4.5,-5 6,-3.6 8,-3.8 C10.5,-4.2 12,-7.5 12.8,-11 L18.1,-33.5 L12,-33.5 C9,-33.5 7,-32 6.6,-29.5 Z"/>
<text x="2816.0" y="275.5" font-size="33" class="b" text-anchor="start" fill="#c55a11" >2</text>
<text x="2846.5" y="268.0" font-size="50" class="b" text-anchor="start" fill="#c55a11" textLength="27" lengthAdjust="spacingAndGlyphs">=</text>
<text x="2888.5" y="267.0" font-size="45" class="b" text-anchor="start" fill="#c55a11" textLength="15" lengthAdjust="spacingAndGlyphs">{</text>
<text x="2905.0" y="267.0" font-size="43" class="bi" text-anchor="start" fill="#c55a11" textLength="16" lengthAdjust="spacingAndGlyphs">t</text>
<text x="2923.0" y="276.5" font-size="33" class="b" text-anchor="start" fill="#c55a11" >2<tspan class="b" style="font-style:normal">,1</tspan></text>
<text x="2964.0" y="267.0" font-size="44" class="b" text-anchor="start" fill="#c55a11" >,</text>
<g fill="#c55a11"><circle cx="2987.1" cy="253.0" r="2.6"/><circle cx="2999.8" cy="253.0" r="2.6"/><circle cx="3012.4" cy="253.0" r="2.6"/></g>
<text x="3022.0" y="267.0" font-size="44" class="b" text-anchor="start" fill="#c55a11" >,</text>
<text x="3042.0" y="267.0" font-size="43" class="bi" text-anchor="start" fill="#c55a11" textLength="16" lengthAdjust="spacingAndGlyphs">t</text>
<text x="3060.0" y="276.5" font-size="33" class="b" text-anchor="start" fill="#c55a11" >2<tspan class="b" style="font-style:normal">,</tspan><tspan class="bi">k</tspan></text>
<text x="3101.5" y="267.0" font-size="45" class="b" text-anchor="start" fill="#c55a11" textLength="15" lengthAdjust="spacingAndGlyphs">}</text>
<rect x="2680.3" y="280.0" width="512.0" height="70.5" rx="11" ry="11" fill="#d9e8d0" stroke="#5e8a3f" stroke-width="3.6" fill-opacity="0.85"/>
<text x="2773.0" y="326.4" font-size="42" class="bi" text-anchor="start" fill="#3f5a28" textLength="23" stroke="#3f5a28" stroke-width="0.7" lengthAdjust="spacingAndGlyphs">C</text>
<text x="2801.0" y="334.9" font-size="33" class="b" text-anchor="start" fill="#3f5a28" >2</text>
<text x="2831.5" y="327.4" font-size="50" class="b" text-anchor="start" fill="#3f5a28" textLength="27" lengthAdjust="spacingAndGlyphs">=</text>
<text x="2873.0" y="326.4" font-size="45" class="b" text-anchor="start" fill="#3f5a28" textLength="15" lengthAdjust="spacingAndGlyphs">{</text>
<text x="2889.0" y="326.4" font-size="47" class="bi" text-anchor="start" fill="#3f5a28" stroke="#3f5a28" stroke-width="0.5">c</text>
<text x="2911.5" y="335.9" font-size="33" class="b" text-anchor="start" fill="#3f5a28" >2<tspan class="b" style="font-style:normal">,1</tspan></text>
<text x="2952.0" y="326.4" font-size="44" class="b" text-anchor="start" fill="#3f5a28" >,</text>
<g fill="#3f5a28"><circle cx="2975.1" cy="312.4" r="2.6"/><circle cx="2987.8" cy="312.4" r="2.6"/><circle cx="3000.4" cy="312.4" r="2.6"/></g>
<text x="3011.5" y="326.4" font-size="44" class="b" text-anchor="start" fill="#3f5a28" >,</text>
<text x="3028.5" y="326.4" font-size="47" class="bi" text-anchor="start" fill="#3f5a28" stroke="#3f5a28" stroke-width="0.5">c</text>
<text x="3051.0" y="335.9" font-size="33" class="b" text-anchor="start" fill="#3f5a28" >2<tspan class="b" style="font-style:normal">,</tspan><tspan class="bi">l</tspan></text>
<text x="3086.0" y="326.4" font-size="45" class="b" text-anchor="start" fill="#3f5a28" textLength="15" lengthAdjust="spacingAndGlyphs">}</text>
<g fill="#000"><circle cx="2899.5" cy="413" r="4.2"/><circle cx="2916" cy="413" r="4.2"/><circle cx="2932.5" cy="413" r="4.2"/></g>
<rect x="2696.0" y="441.5" width="512.0" height="71.0" rx="11" ry="11" fill="#fae9e0" stroke="#b8923a" stroke-width="3.3" />
<path transform="translate(2783.0,488.8) scale(0.7115)" fill="#c55a11" stroke="#c55a11" stroke-width="2.2" stroke-linejoin="round" d="M6.2,-25.6 C4.5,-24.5 2.5,-24.5 1.7,-25.5 C0.8,-28 1.5,-31 4,-34 C6.5,-37 10,-38 14,-38 L36.6,-38 L34.9,-28.7 L32.5,-29.5 C32.5,-31.5 32,-33 30,-33.5 L23.6,-33.5 L18.3,-10.6 C17,-5 14,-0.5 8.5,0 C4.5,0.3 1,-1.5 0,-4.4 L3.8,-7.2 C4.5,-5 6,-3.6 8,-3.8 C10.5,-4.2 12,-7.5 12.8,-11 L18.1,-33.5 L12,-33.5 C9,-33.5 7,-32 6.6,-29.5 Z"/>
<text x="2816.0" y="496.8" font-size="33" class="bi" text-anchor="start" fill="#c55a11" >n</text>
<text x="2846.5" y="489.3" font-size="50" class="b" text-anchor="start" fill="#c55a11" textLength="27" lengthAdjust="spacingAndGlyphs">=</text>
<text x="2888.5" y="488.3" font-size="45" class="b" text-anchor="start" fill="#c55a11" textLength="15" lengthAdjust="spacingAndGlyphs">{</text>
<text x="2905.0" y="488.3" font-size="43" class="bi" text-anchor="start" fill="#c55a11" textLength="16" lengthAdjust="spacingAndGlyphs">t</text>
<text x="2923.0" y="497.8" font-size="33" class="bi" text-anchor="start" fill="#c55a11" >n<tspan class="b" style="font-style:normal">,1</tspan></text>
<text x="2964.0" y="488.3" font-size="44" class="b" text-anchor="start" fill="#c55a11" >,</text>
<g fill="#c55a11"><circle cx="2987.1" cy="474.3" r="2.6"/><circle cx="2999.8" cy="474.3" r="2.6"/><circle cx="3012.4" cy="474.3" r="2.6"/></g>
<text x="3022.0" y="488.3" font-size="44" class="b" text-anchor="start" fill="#c55a11" >,</text>
<text x="3042.0" y="488.3" font-size="43" class="bi" text-anchor="start" fill="#c55a11" textLength="16" lengthAdjust="spacingAndGlyphs">t</text>
<text x="3060.0" y="497.8" font-size="33" class="bi" text-anchor="start" fill="#c55a11" >n<tspan class="b" style="font-style:normal">,</tspan><tspan class="bi">k</tspan></text>
<text x="3101.5" y="488.3" font-size="45" class="b" text-anchor="start" fill="#c55a11" textLength="15" lengthAdjust="spacingAndGlyphs">}</text>
<rect x="2680.3" y="499.0" width="512.0" height="70.5" rx="11" ry="11" fill="#d9e8d0" stroke="#5e8a3f" stroke-width="3.6" fill-opacity="0.85"/>
<text x="2772.5" y="545.5" font-size="42" class="bi" text-anchor="start" fill="#3f5a28" textLength="23" stroke="#3f5a28" stroke-width="0.7" lengthAdjust="spacingAndGlyphs">C</text>
<text x="2800.5" y="554.0" font-size="33" class="bi" text-anchor="start" fill="#3f5a28" >n</text>
<text x="2831.0" y="546.5" font-size="50" class="b" text-anchor="start" fill="#3f5a28" textLength="27" lengthAdjust="spacingAndGlyphs">=</text>
<text x="2872.5" y="545.5" font-size="45" class="b" text-anchor="start" fill="#3f5a28" textLength="15" lengthAdjust="spacingAndGlyphs">{</text>
<text x="2888.5" y="545.5" font-size="47" class="bi" text-anchor="start" fill="#3f5a28" stroke="#3f5a28" stroke-width="0.5">c</text>
<text x="2911.0" y="555.0" font-size="33" class="bi" text-anchor="start" fill="#3f5a28" >n<tspan class="b" style="font-style:normal">,1</tspan></text>
<text x="2951.5" y="545.5" font-size="44" class="b" text-anchor="start" fill="#3f5a28" >,</text>
<g fill="#3f5a28"><circle cx="2974.6" cy="531.5" r="2.6"/><circle cx="2987.2" cy="531.5" r="2.6"/><circle cx="2999.9" cy="531.5" r="2.6"/></g>
<text x="3011.0" y="545.5" font-size="44" class="b" text-anchor="start" fill="#3f5a28" >,</text>
<text x="3028.0" y="545.5" font-size="47" class="bi" text-anchor="start" fill="#3f5a28" stroke="#3f5a28" stroke-width="0.5">c</text>
<text x="3050.5" y="555.0" font-size="33" class="bi" text-anchor="start" fill="#3f5a28" >n<tspan class="b" style="font-style:normal">,</tspan><tspan class="bi">l</tspan></text>
<text x="3085.5" y="545.5" font-size="45" class="b" text-anchor="start" fill="#3f5a28" textLength="15" lengthAdjust="spacingAndGlyphs">}</text>
<text x="2872.6" y="665.5" font-size="37.5" class="" text-anchor="middle" fill="#000" >Input</text>
<polyline points="2932.6,610.3 2932.6,722.5" fill="none" stroke="#000" stroke-width="4.6"/>
<polygon points="2932.6,734.5 2922.6,714.5 2932.6,720.9 2942.6,714.5" fill="#000"/>
<text x="3237.2" y="695.5" font-size="34" class="" text-anchor="middle" fill="#000" >Candidate</text>
<text x="3237.2" y="736.7" font-size="33.5" class="" text-anchor="middle" fill="#000" >item</text>
<rect x="2663.5" y="738.2" width="527.0" height="316.3" rx="0" ry="0" fill="#fcfcfc" stroke="#595959" stroke-width="6.3" />
<text x="2683.0" y="840.0" font-size="41.3" class="b" text-anchor="start" fill="#000" >RecSys</text>
<rect x="2811.0" y="781.0" width="365.0" height="122.0" rx="20" ry="20" fill="#dff7f1" stroke="#d9d9d9" stroke-width="3" />
<text x="2995.0" y="832.5" font-size="39" class="" text-anchor="middle" fill="#000" >Tag-based</text>
<text x="2995.0" y="871.0" font-size="38.2" class="" text-anchor="middle" fill="#000" >Item/User Encoder</text>
<rect x="2806.0" y="911.0" width="371.0" height="119.5" rx="20" ry="20" fill="#fbf2dc" stroke="#d9d9d9" stroke-width="3" />
<text x="2992.7" y="961.4" font-size="38.7" class="" text-anchor="middle" fill="#000" >Tag-logic</text>
<text x="2992.7" y="1008.0" font-size="38.3" class="" text-anchor="middle" fill="#000" >Inference Extension</text>
<rect x="2685" y="876" width="115" height="116.7" fill="#f8f8f8"/>
<g stroke="#000" stroke-width="5" fill="#fcfcfc">
<line x1="2703.1" y1="893.1" x2="2748.5" y2="935.0"/>
<line x1="2703.1" y1="921.3" x2="2748.5" y2="962.6"/>
<line x1="2703.1" y1="948.7" x2="2748.5" y2="907.4"/>
<line x1="2703.1" y1="976.7" x2="2748.5" y2="935.0"/>
<line x1="2748.5" y1="907.4" x2="2786.0" y2="935.0"/>
<line x1="2748.5" y1="935.0" x2="2786.0" y2="935.0"/>
<line x1="2748.5" y1="962.6" x2="2786.0" y2="935.0"/>
<circle cx="2703.1" cy="893.1" r="7.8" stroke-width="5.4"/>
<circle cx="2703.1" cy="921.3" r="7.8" stroke-width="5.4"/>
<circle cx="2703.1" cy="948.7" r="7.8" stroke-width="5.4"/>
<circle cx="2703.1" cy="976.7" r="7.8" stroke-width="5.4"/>
<circle cx="2748.5" cy="907.4" r="7.8" stroke-width="5.4"/>
<circle cx="2748.5" cy="935.0" r="7.8" stroke-width="5.4"/>
<circle cx="2748.5" cy="962.6" r="7.8" stroke-width="5.4"/>
<circle cx="2786.0" cy="935.0" r="7.8" stroke-width="5.4"/>
</g>
<g><path d="M3223.5,756.2 H3243.8 Q3246.3,756.2 3246.8,758.7 L3249.2,772 H3218 L3220.5,758.7 Q3221,756.2 3223.5,756.2 Z" fill="#000"/><path d="M3218,807 H3249.2 L3246.8,820.5 Q3246.3,823 3243.8,823 H3223.5 Q3221,823 3220.5,820.5 Z" fill="#000"/><rect x="3208" y="786.2" width="6" height="5.6" rx="1" fill="#000"/><circle cx="3233.8" cy="789.1" r="23.6" fill="#fcfcfc"/><circle cx="3233.8" cy="789.1" r="20" fill="#fcfcfc" stroke="#000" stroke-width="4.2"/><path d="M3233.8,777.6 V789.8 L3242.8,798.3" fill="none" stroke="#000" stroke-width="3"/></g>
<text x="3272.0" y="800.7" font-size="50" class="bi" text-anchor="start" fill="#000" textLength="24.5" lengthAdjust="spacingAndGlyphs">v</text>
<text x="3299.5" y="808.8" font-size="33" class="bi" text-anchor="start" fill="#000" >i</text>
<polyline points="3279.3,823.3 3279.3,956.6 3205.0,956.6" fill="none" stroke="#000" stroke-width="4.9"/>
<polygon points="3193.0,956.6 3213.0,946.1 3206.6,956.6 3213.0,967.1" fill="#000"/>
<text x="2319.0" y="768.4" font-size="38" class="i" text-anchor="start" fill="#000" >Logic Graph</text>
<rect x="2297.4" y="782.0" width="239.9" height="294.6" rx="39" ry="39" fill="#edf2fa" stroke="#595959" stroke-width="5.6" />
<line x1="2375.7" y1="831.0" x2="2444.0" y2="831.0" stroke="#ecb083" stroke-width="6"/>
<polygon points="2461.0,831.0 2442.0,841.0 2442.0,821.0" fill="#ecb083"/>
<line x1="2375.0" y1="903.0" x2="2445.5" y2="854.4" stroke="#ecb083" stroke-width="6"/>
<polygon points="2459.5,844.7 2449.5,863.7 2438.2,847.3" fill="#ecb083"/>
<line x1="2375.0" y1="978.0" x2="2446.7" y2="915.7" stroke="#ecb083" stroke-width="6"/>
<polygon points="2459.5,904.5 2451.7,924.5 2438.6,909.4" fill="#ecb083"/>
<line x1="2467.0" y1="850.7" x2="2379.6" y2="944.6" stroke="#abd08f" stroke-width="6"/>
<polygon points="2368.0,957.0 2373.6,936.3 2388.3,949.9" fill="#abd08f"/>
<line x1="2459.5" y1="903.0" x2="2382.8" y2="859.1" stroke="#abd08f" stroke-width="6"/>
<polygon points="2368.0,850.7 2389.5,851.4 2379.5,868.8" fill="#abd08f"/>
<line x1="2467.0" y1="961.4" x2="2390.1" y2="913.5" stroke="#abd08f" stroke-width="6"/>
<polygon points="2375.7,904.5 2397.1,906.1 2386.5,923.0" fill="#abd08f"/>
<circle cx="2351.2" cy="833.3" r="24" fill="#f3d7c4" stroke="#1a2a4f" stroke-width="3"/>
<circle cx="2486.4" cy="833.3" r="24" fill="#d3e5cb" stroke="#1a2a4f" stroke-width="3"/>
<circle cx="2351.2" cy="904.5" r="24" fill="#f3d7c4" stroke="#1a2a4f" stroke-width="3"/>
<circle cx="2486.4" cy="904.5" r="24" fill="#d3e5cb" stroke="#1a2a4f" stroke-width="3"/>
<circle cx="2351.2" cy="979.3" r="24" fill="#f3d7c4" stroke="#1a2a4f" stroke-width="3"/>
<circle cx="2486.4" cy="979.3" r="24" fill="#d3e5cb" stroke="#1a2a4f" stroke-width="3"/>
<text x="2343.0" y="1056.5" font-size="38" class="i" text-anchor="start" fill="#000" >C</text>
<text x="2370.0" y="1050.0" font-size="30" class="" text-anchor="start" fill="#000" >*</text>
<path transform="translate(2477.5,1057.0) scale(0.6731)" fill="#000" stroke="#000" stroke-width="0.6" stroke-linejoin="round" d="M6.2,-25.6 C4.5,-24.5 2.5,-24.5 1.7,-25.5 C0.8,-28 1.5,-31 4,-34 C6.5,-37 10,-38 14,-38 L36.6,-38 L34.9,-28.7 L32.5,-29.5 C32.5,-31.5 32,-33 30,-33.5 L23.6,-33.5 L18.3,-10.6 C17,-5 14,-0.5 8.5,0 C4.5,0.3 1,-1.5 0,-4.4 L3.8,-7.2 C4.5,-5 6,-3.6 8,-3.8 C10.5,-4.2 12,-7.5 12.8,-11 L18.1,-33.5 L12,-33.5 C9,-33.5 7,-32 6.6,-29.5 Z"/>
<text x="2508.0" y="1050.0" font-size="30" class="" text-anchor="start" fill="#000" >*</text>
<text x="2559.0" y="836.4" font-size="41" class="i" text-anchor="start" fill="#375623" stroke="#375623" stroke-width="0.7">G<tspan dy="-14" font-size="27" dx="5" letter-spacing="2.5">I2U*</tspan></text>
<polyline points="2538.0,857.3 2650.0,857.3" fill="none" stroke="#000" stroke-width="5.2"/>
<polygon points="2662.0,857.3 2642.0,867.8 2648.4,857.3 2642.0,846.8" fill="#000"/>
<text x="2561.0" y="962.0" font-size="41" class="i" text-anchor="start" fill="#c55a11" stroke="#c55a11" stroke-width="0.7">G<tspan dy="-14" font-size="27" dx="5" letter-spacing="2.5">U2I*</tspan></text>
<polyline points="2538.0,982.3 2650.0,982.3" fill="none" stroke="#000" stroke-width="5.2"/>
<polygon points="2662.0,982.3 2642.0,992.8 2648.4,982.3 2642.0,971.8" fill="#000"/>
<polyline points="2940.3,1056.0 2940.3,1141.0" fill="none" stroke="#000" stroke-width="5"/>
<polygon points="2940.3,1153.0 2929.8,1133.0 2940.3,1139.4 2950.8,1133.0" fill="#000"/>
<polyline points="3123.0,1056.0 3123.0,1143.4" fill="none" stroke="#000" stroke-width="5"/>
<polygon points="3123.0,1155.4 3112.5,1135.4 3123.0,1141.8 3133.5,1135.4" fill="#000"/>
<text x="2917.0" y="1204.0" font-size="46" class="i" text-anchor="start" fill="#000" >y</text>
<text x="2938.0" y="1210.5" font-size="33" class="i" text-anchor="start" fill="#000" letter-spacing="3">raw</text>
<text x="3101.0" y="1205.0" font-size="46" class="i" text-anchor="start" fill="#000" >y</text>
<text x="3124.0" y="1212.0" font-size="33" class="i" text-anchor="start" fill="#000" letter-spacing="3.5">tag</text>
<text x="3026.0" y="1313.0" font-size="46" class="i" text-anchor="start" fill="#000" >y</text>
<polyline points="2921.5,1180.5 2929.5,1173.0 2937.5,1180.5" fill="none" stroke="#2a1a1a" stroke-width="2.2"/>
<polyline points="3105.5,1181.5 3113.5,1174.0 3121.5,1181.5" fill="none" stroke="#2a1a1a" stroke-width="2.2"/>
<polyline points="3030.5,1290.5 3038.5,1283.0 3046.5,1290.5" fill="none" stroke="#2a1a1a" stroke-width="2.2"/>
<polyline points="2940.3,1228.5 3004.2,1265.9" fill="none" stroke="#000" stroke-width="5"/>
<polygon points="3014.6,1272.0 2992.0,1271.0 3002.9,1265.1 3002.6,1252.8" fill="#000"/>
<polyline points="3130.0,1231.0 3067.3,1268.5" fill="none" stroke="#000" stroke-width="5"/>
<polygon points="3057.0,1274.7 3068.8,1255.4 3068.7,1267.7 3079.6,1273.4" fill="#000"/>
<text x="2494.0" y="1128.0" font-size="31" class="" text-anchor="start" fill="#000" >Backpropagation</text>
<polyline points="2721.5,1157.0 2721.5,1069.0" fill="none" stroke="#000" stroke-width="4.7" stroke-dasharray="14 8"/>
<polygon points="2721.5,1057.0 2731.5,1077.0 2721.5,1070.6 2711.5,1077.0" fill="#000"/>
<rect x="2300.0" y="1158.0" width="582.0" height="159.4" rx="24" ry="24" fill="#daecfb" stroke="#d6d6d6" stroke-width="3" />
<text x="2325.0" y="1294.6" font-size="38.5" class="" text-anchor="start" fill="#000" >Tag-based Learning Augmentation</text>
<g transform="translate(2347.0,1226.7) scale(0.4200)" fill="none" stroke="#000" stroke-width="4.5" stroke-linecap="round" stroke-linejoin="round"><path d="M30,-30 C52,-36 64,-54 56,-63 C48,-70 38,-58 35,-40 C32,-22 28,-6 18,-2 C10,1 6,-6 12,-10 C22,-15 36,2 58,-8"/></g>
<text x="2385.0" y="1226.7" font-size="46" class="" text-anchor="start" fill="#000" >=</text>
<text x="2422.0" y="1226.7" font-size="42" class="" text-anchor="start" fill="#000" transform="translate(305.4,0) skewX(-14) translate(0.0,0)">λ</text>
<text x="2447.0" y="1226.7" font-size="42" class="" text-anchor="start" fill="#000" >(</text>
<g transform="translate(2461.0,1226.7) scale(0.4200)" fill="none" stroke="#000" stroke-width="4.5" stroke-linecap="round" stroke-linejoin="round"><path d="M30,-30 C52,-36 64,-54 56,-63 C48,-70 38,-58 35,-40 C32,-22 28,-6 18,-2 C10,1 6,-6 12,-10 C22,-15 36,2 58,-8"/></g>
<text x="2484.0" y="1234.2" font-size="36" class="" text-anchor="start" fill="#000" >ut</text>
<text x="2524.0" y="1226.7" font-size="46" class="" text-anchor="start" fill="#000" >+</text>
<g transform="translate(2558.5,1226.7) scale(0.4200)" fill="none" stroke="#000" stroke-width="4.5" stroke-linecap="round" stroke-linejoin="round"><path d="M30,-30 C52,-36 64,-54 56,-63 C48,-70 38,-58 35,-40 C32,-22 28,-6 18,-2 C10,1 6,-6 12,-10 C22,-15 36,2 58,-8"/></g>
<text x="2584.5" y="1236.7" font-size="36" class="" text-anchor="start" fill="#000" >it</text>
<text x="2605.5" y="1226.7" font-size="42" class="" text-anchor="start" fill="#000" >)</text>
<text x="2630.5" y="1226.7" font-size="46" class="" text-anchor="start" fill="#000" >+</text>
<text x="2669.0" y="1226.7" font-size="42" class="" text-anchor="start" fill="#000" >(</text>
<text x="2686.0" y="1226.7" font-size="42" class="" text-anchor="start" fill="#000" >1</text>
<text x="2715.0" y="1226.7" font-size="46" class="" text-anchor="start" fill="#000" >−</text>
<text x="2750.0" y="1226.7" font-size="42" class="" text-anchor="start" fill="#000" transform="translate(305.4,0) skewX(-14) translate(0.0,0)">λ</text>
<text x="2771.5" y="1226.7" font-size="42" class="" text-anchor="start" fill="#000" >)</text>
<g transform="translate(2785.5,1226.7) scale(0.4200)" fill="none" stroke="#000" stroke-width="4.5" stroke-linecap="round" stroke-linejoin="round"><path d="M30,-30 C52,-36 64,-54 56,-63 C48,-70 38,-58 35,-40 C32,-22 28,-6 18,-2 C10,1 6,-6 12,-10 C22,-15 36,2 58,-8"/></g>
<text x="2810.0" y="1236.7" font-size="36" class="" text-anchor="start" fill="#000" >ui</text>
<text x="2759.0" y="1493.3" font-size="55.5" class="b" text-anchor="middle" fill="#000" >(3) Tag Logic Integration</text>
<rect x="3323" y="0" width="3" height="1510" fill="#efefef"/>
<rect x="0" y="0" width="3326" height="1" fill="#8c8c8c"/>
</svg>
</body></html>
